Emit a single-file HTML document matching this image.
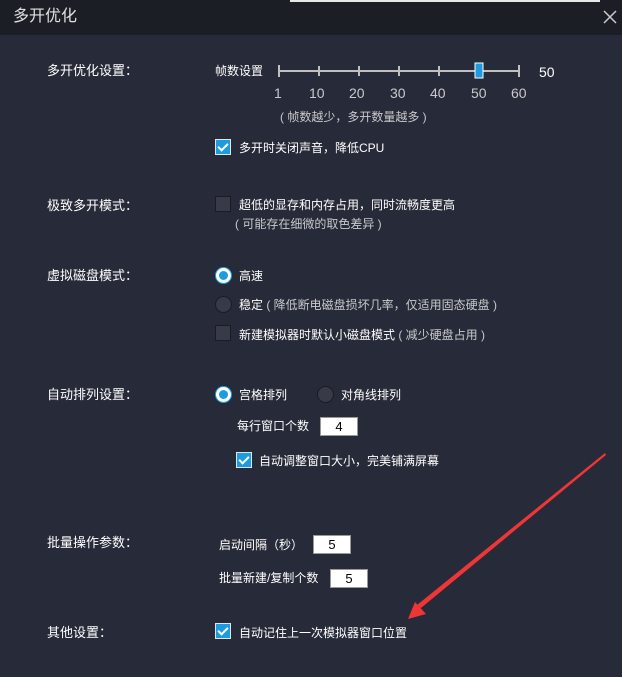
<!DOCTYPE html>
<html><head><meta charset="utf-8"><style>
*{margin:0;padding:0;box-sizing:border-box}
body{width:622px;height:677px;background:#272a38;font-family:"Liberation Sans","Noto Sans CJK SC",sans-serif;color:#fff;position:relative;overflow:hidden;font-size:12px}
.t{position:absolute;white-space:nowrap;line-height:16px}
.lab{font-size:13px}
.g{color:#c8c9cc}
.cb{position:absolute;width:16px;height:16px;background:#383b47;border:1px solid #1a1c24}
.cb.on{background:#1d9be0;border-color:#dfe6ee}
.cb.on:after{content:"";position:absolute;left:4px;top:1px;width:4px;height:8px;border:solid #fff;border-width:0 2px 2px 0;transform:rotate(45deg)}
.rd{position:absolute;width:17px;height:17px;border-radius:50%;background:#383b47;border:1px solid #1a1c24}
.rd.on{background:#fff;border:1px solid #1d9be0}
.rd.on:after{content:"";position:absolute;left:3px;top:3px;width:9px;height:9px;border-radius:50%;background:#1d9be0}
.in{position:absolute;background:#fff;color:#000;border:1px solid #999;height:19px;text-align:center;line-height:17px;font-size:13px}
</style></head><body>
<div style="position:absolute;left:0;top:0;width:622px;height:35px;background:#1c1e26"></div>
<div style="position:absolute;left:290px;top:0;width:310px;height:2px;background:#e8e8e8"></div>
<div class="t" style="left:13px;top:9px;font-size:16px;color:#e0e0e0">多开优化</div>
<svg style="position:absolute;left:603px;top:10px" width="14" height="14"><path d="M1 1L13 13M13 1L1 13" stroke="#ccc" stroke-width="1.5"/></svg>

<div class="t lab" style="left:47px;top:63px">多开优化设置：</div>
<div class="t" style="left:215px;top:63px">帧数设置</div>
<svg style="position:absolute;left:270px;top:60px" width="260" height="24">
<line x1="9" y1="11" x2="249" y2="11" stroke="#c0c0c0" stroke-width="2"/>
<g stroke="#c0c0c0" stroke-width="2"><line x1="9" y1="5" x2="9" y2="17"/><line x1="49" y1="6" x2="49" y2="16"/><line x1="89" y1="6" x2="89" y2="16"/><line x1="129" y1="6" x2="129" y2="16"/><line x1="169" y1="6" x2="169" y2="16"/><line x1="249" y1="5" x2="249" y2="17"/></g>
<rect x="205" y="3" width="8" height="15" fill="#1d9be0" stroke="#fff" stroke-width="1"/>
</svg>
<div class="t" style="left:539px;top:64px;font-size:14px">50</div>
<div class="t g" style="left:274px;top:85px;font-size:14px">1</div>
<div class="t g" style="left:309px;top:85px;font-size:14px">10</div>
<div class="t g" style="left:349px;top:85px;font-size:14px">20</div>
<div class="t g" style="left:390px;top:85px;font-size:14px">30</div>
<div class="t g" style="left:430px;top:85px;font-size:14px">40</div>
<div class="t g" style="left:471px;top:85px;font-size:14px">50</div>
<div class="t g" style="left:511px;top:85px;font-size:14px">60</div>
<div class="t g" style="left:280px;top:109px;font-size:12px">( 帧数越少，多开数量越多 )</div>
<div class="cb on" style="left:215px;top:139px"></div>
<div class="t" style="left:239px;top:140px">多开时关闭声音，降低CPU</div>

<div class="t lab" style="left:47px;top:198px">极致多开模式：</div>
<div class="cb" style="left:215px;top:196px"></div>
<div class="t" style="left:239px;top:197px">超低的显存和内存占用，同时流畅度更高</div>
<div class="t g" style="left:235px;top:216px;font-size:12px">( 可能存在细微的取色差异 )</div>

<div class="t lab" style="left:47px;top:268px">虚拟磁盘模式：</div>
<div class="rd on" style="left:215px;top:267px"></div>
<div class="t" style="left:239px;top:268px">高速</div>
<div class="rd" style="left:215px;top:296px"></div>
<div class="t" style="left:239px;top:297px">稳定 <span class="g">( 降低断电磁盘损坏几率，仅适用固态硬盘 )</span></div>
<div class="cb" style="left:215px;top:325px"></div>
<div class="t" style="left:239px;top:327px">新建模拟器时默认小磁盘模式 <span class="g">( 减少硬盘占用 )</span></div>

<div class="t lab" style="left:47px;top:387px">自动排列设置：</div>
<div class="rd on" style="left:215px;top:386px"></div>
<div class="t" style="left:239px;top:387px">宫格排列</div>
<div class="rd" style="left:317px;top:386px"></div>
<div class="t" style="left:341px;top:387px">对角线排列</div>
<div class="t" style="left:237px;top:418px">每行窗口个数</div>
<div class="in" style="left:320px;top:417px;width:38px">4</div>
<div class="cb on" style="left:236px;top:452px"></div>
<div class="t" style="left:259px;top:453px">自动调整窗口大小，完美铺满屏幕</div>

<div class="t lab" style="left:47px;top:535px">批量操作参数：</div>
<div class="t" style="left:219px;top:537px">启动间隔（秒）</div>
<div class="in" style="left:313px;top:535px;width:38px">5</div>
<div class="t" style="left:219px;top:570px">批量新建/复制个数</div>
<div class="in" style="left:330px;top:569px;width:38px">5</div>

<div class="t lab" style="left:47px;top:625px">其他设置：</div>
<div class="cb on" style="left:215px;top:623px"></div>
<div class="t" style="left:239px;top:625px">自动记住上一次模拟器窗口位置</div>

<svg style="position:absolute;left:0;top:0" width="622" height="677">
<polygon points="605,453 606,455 421,608 417,605" fill="#ee3636"/>
<polygon points="408,619 415,602 426,614" fill="#ee3636"/>
</svg>
</body></html>
